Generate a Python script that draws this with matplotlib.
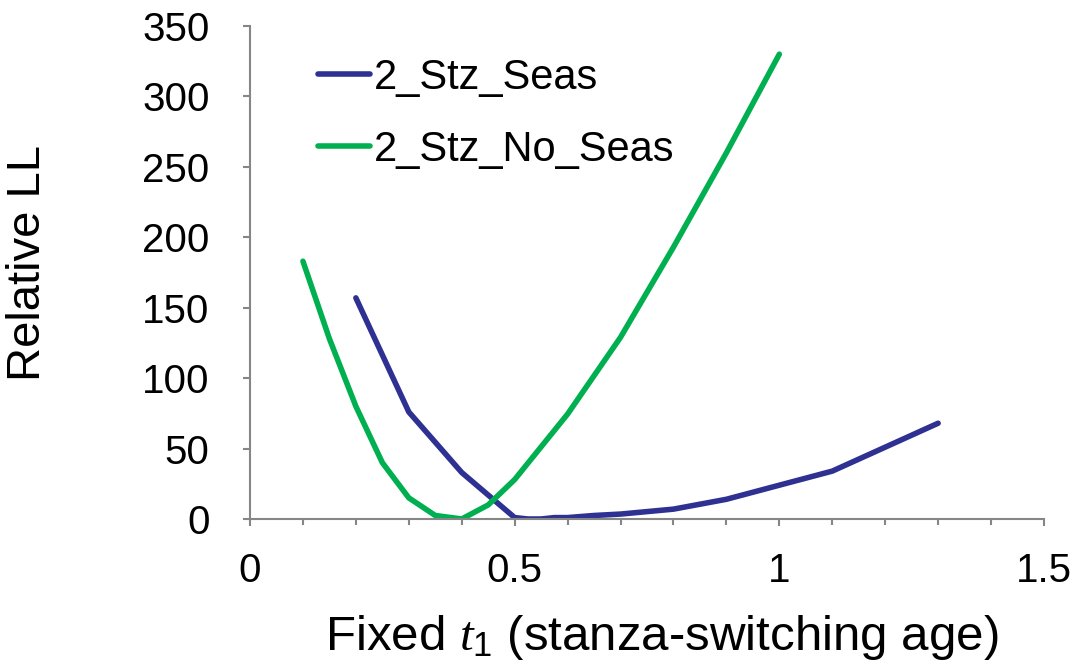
import numpy as np
import matplotlib
matplotlib.use("Agg")
import matplotlib.pyplot as plt
from matplotlib.ticker import MultipleLocator, FuncFormatter

plt.rcParams['font.family'] = ['Liberation Sans', 'DejaVu Sans']
plt.rcParams['mathtext.fontset'] = 'custom'
plt.rcParams['mathtext.rm'] = 'Liberation Sans'
plt.rcParams['mathtext.it'] = 'Liberation Serif:italic'

# data
t1_seas = [0.2, 0.3, 0.4, 0.5, 0.525, 0.55, 0.575, 0.6, 0.65, 0.7, 0.8, 0.9, 1.0, 1.1, 1.2, 1.3]
ll_seas = [157, 76, 33, 1, 0, 0, 1, 1, 2.5, 3.5, 7, 14, 24, 34, 51, 68]

t1_noseas = [0.1, 0.15, 0.2, 0.25, 0.3, 0.35, 0.4, 0.45, 0.5, 0.6, 0.7, 0.8, 0.9, 1.0]
ll_noseas = [183, 128, 80, 40, 15, 2.5, 0, 10, 28, 74.5, 129, 193, 260, 330]

labels = ["2_Stz_Seas", "2_Stz_No_Seas"]
colors = ["#2E3192", "#00B050"]

fig = plt.figure(figsize=(10.77, 6.62), dpi=100)
ax = fig.add_axes([250/1077, 1 - 519/662, (1044 - 250)/1077, (519 - 26)/662])

ax.plot(t1_seas, ll_seas, color=colors[0], lw=4, solid_capstyle='round', label=labels[0])
ax.plot(t1_noseas, ll_noseas, color=colors[1], lw=4, solid_capstyle='round', label=labels[1])

ax.set_xlim(0, 1.5)
ax.set_ylim(0, 350)
ax.xaxis.set_major_locator(MultipleLocator(0.5))
ax.xaxis.set_minor_locator(MultipleLocator(0.1))
ax.yaxis.set_major_locator(MultipleLocator(50))
ax.xaxis.set_major_formatter(FuncFormatter(lambda v, p: f"{v:g}"))

for s in ["top", "right"]:
    ax.spines[s].set_visible(False)
for s in ["left", "bottom"]:
    ax.spines[s].set_color("#868686")
    ax.spines[s].set_linewidth(1.5)

ax.tick_params(axis='both', which='major', length=5, width=1.5, color="#868686",
               labelsize=29, direction='out')
ax.tick_params(axis='x', which='major', pad=19)
ax.tick_params(axis='y', which='major', pad=24)
ax.tick_params(axis='x', which='minor', length=4, width=1.5, color="#868686")

ax.set_ylabel("Relative LL", fontsize=34)
ax.yaxis.set_label_coords(-0.252, 0.52)
ax.set_xlabel(r"Fixed $t_1$ (stanza-switching age)", fontsize=35.5)
ax.xaxis.set_label_coords(0.518, -0.19)

ax.legend(loc='upper left', bbox_to_anchor=(0.0856, 0.936), frameon=False, fontsize=30,
          handlelength=1.25, handletextpad=0.08, labelspacing=0.77,
          borderaxespad=0, borderpad=0)

fig.savefig("out.png", dpi=100)
